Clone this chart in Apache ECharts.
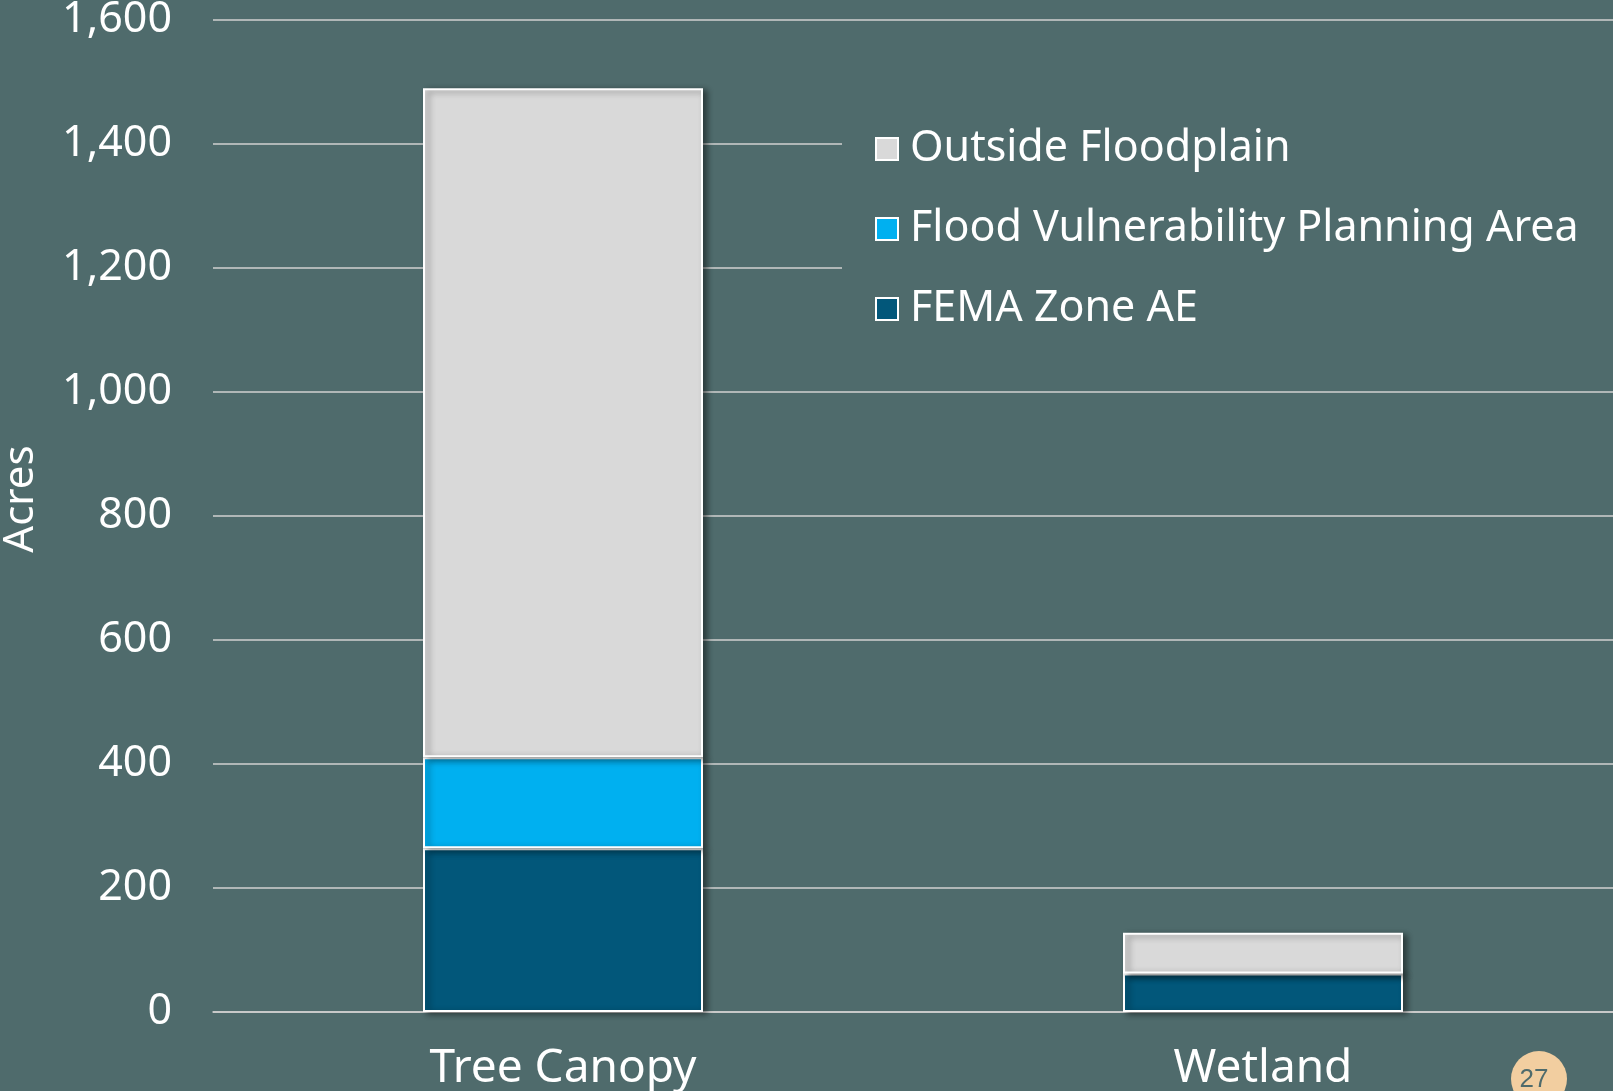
<!DOCTYPE html>
<html>
<head>
<meta charset="utf-8">
<script src="https://cdn.jsdelivr.net/npm/echarts@6/dist/echarts.min.js"></script>
<style>
  html, body { margin: 0; padding: 0; background: #4F6B6C; }
  #chart { width: 1613px; height: 1091px; }
</style>
</head>
<body>
<div id="chart"></div>
<script>
  // 数据
  const categories = ['Tree Canopy', 'Wetland'];
  const femaZoneAE = [264, 62];
  const floodVulnerability = [147, 0];
  const outsideFloodplain = [1079, 66];
  const yTicks = [0, 200, 400, 600, 800, 1000, 1200, 1400, 1600];

  const font = 'Noto Sans';
  const chart = echarts.init(document.getElementById('chart'));

  const barStyle = (color) => ({
    color: color,
    borderColor: '#ffffff',
    borderWidth: 2,
    shadowColor: 'rgba(0,0,0,0.45)',
    shadowBlur: 6,
    shadowOffsetX: 4,
    shadowOffsetY: 2
  });

  const option = {
    backgroundColor: '#4F6B6C',
    animation: false,
    grid: {
      left: 213,
      right: 0,
      top: 20,
      bottom: 79,
      containLabel: false,
      outerBoundsMode: 'none'
    },
    legend: {
      orient: 'vertical',
      left: 842,
      top: 105,
      padding: [20, 60, 20, 33],
      backgroundColor: '#4F6B6C',
      icon: 'rect',
      itemWidth: 22,
      itemHeight: 22,
      itemGap: 32,
      data: ['Outside Floodplain', 'Flood Vulnerability Planning Area', 'FEMA Zone AE'],
      textStyle: {
        color: '#ffffff',
        fontFamily: font,
        fontSize: 43,
        lineHeight: 48,
        padding: [0, 0, 0, 7]
      }
    },
    xAxis: {
      type: 'category',
      data: categories,
      axisTick: { show: false },
      axisLine: { show: true, lineStyle: { color: '#D0D0D0', width: 1.5 } },
      axisLabel: {
        color: '#ffffff',
        fontFamily: font,
        fontSize: 46,
        margin: 34
      }
    },
    yAxis: {
      type: 'value',
      min: yTicks[0],
      max: yTicks[yTicks.length - 1],
      interval: 200,
      axisLine: { show: false },
      axisTick: { show: false },
      axisLabel: {
        color: '#ffffff',
        fontFamily: font,
        fontSize: 43,
        margin: 41,
        formatter: (v) => v.toLocaleString('en-US')
      },
      splitLine: {
        show: true,
        lineStyle: { color: '#D0D0D0', width: 1.5 }
      }
    },
    series: [
      {
        name: 'FEMA Zone AE',
        type: 'bar',
        stack: 'total',
        barWidth: 280,
        itemStyle: barStyle('#02577A'),
        data: femaZoneAE
      },
      {
        name: 'Flood Vulnerability Planning Area',
        type: 'bar',
        stack: 'total',
        barWidth: 280,
        itemStyle: barStyle('#00B0F0'),
        data: floodVulnerability
      },
      {
        name: 'Outside Floodplain',
        type: 'bar',
        stack: 'total',
        barWidth: 280,
        itemStyle: barStyle('#D9D9D9'),
        data: outsideFloodplain
      }
    ],
    graphic: [
      // 纵轴标题
      {
        type: 'text',
        x: 21,
        y: 499,
        rotation: Math.PI / 2,
        style: {
          text: 'Acres',
          fill: '#ffffff',
          font: '42px "Noto Sans"',
          align: 'center',
          verticalAlign: 'middle'
        }
      },
      // 页码
      {
        type: 'circle',
        shape: { cx: 1539, cy: 1079, r: 28 },
        style: { fill: '#F2CEA0' },
        z: 100
      },
      {
        type: 'text',
        x: 1534,
        y: 1080,
        style: {
          text: '27',
          fill: '#4F6B6C',
          font: '26px "Liberation Sans"',
          align: 'center',
          verticalAlign: 'middle'
        },
        z: 101
      }
    ]
  };

  chart.setOption(option);
  window.addEventListener('resize', function () {
    chart.resize();
  });
</script>
</body>
</html>
